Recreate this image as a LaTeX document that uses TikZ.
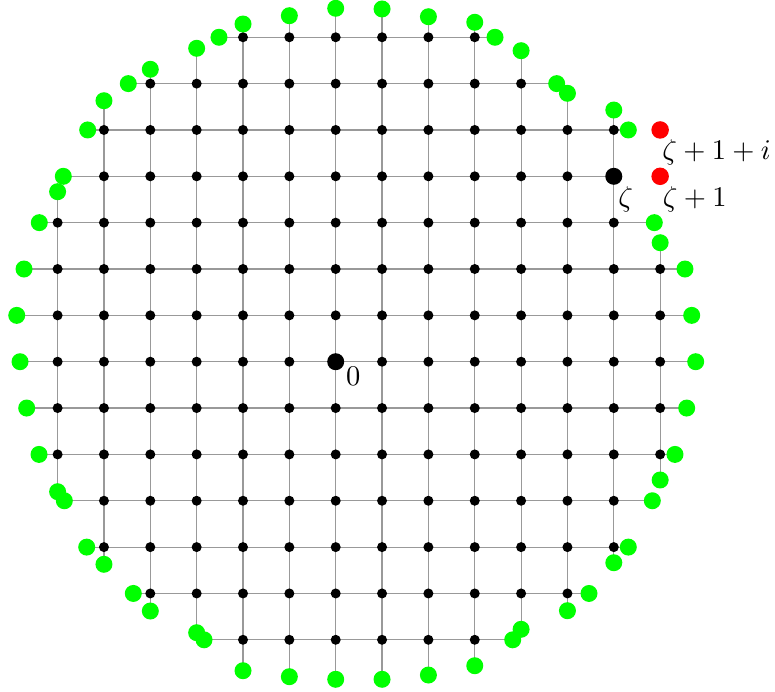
\documentclass[tikz,border=0pt]{standalone}
\usetikzlibrary{backgrounds}
\tikzset{
  gridline/.style={draw=black!40, line width=1.2pt},
  latt/.style={circle, fill=black, inner sep=0pt, minimum size=10pt},
  bigdot/.style={circle, fill=black, inner sep=0pt, minimum size=17pt},
  bnd/.style={circle, fill=green, inner sep=0pt, minimum size=17pt},
  outpt/.style={circle, fill=red, inner sep=0pt, minimum size=17.5pt},
  lbl/.style={inner sep=0pt},
}
\newcommand{\biglbl}[1]{\scalebox{2.85}{#1}}
\begin{document}
\begin{tikzpicture}[x=46.35pt,y=46.35pt]
\useasboundingbox (-7.243,-7.126) rectangle (9.478,7.804);
% lattice points inside
\foreach \i/\lo/\hi in {-6/-2/3, -5/-4/5, -4/-5/6, -3/-5/6, -2/-6/7, -1/-6/7, 0/-6/7, 1/-6/7, 2/-6/7, 3/-6/7, 4/-5/6, 5/-5/5, 6/-4/5, 7/-2/2}
  \foreach \j in {\lo,...,\hi} { \node[latt] (b\i_\j) at (\i,\j) {}; }
\node[bigdot] (zero) at (0,0) {};
\node[bigdot] (zeta) at (6,4) {};
% boundary points on columns
\foreach \i/\t/\b in {-6/3.668/-2.805, -5/5.631/-4.371, -4/6.309/-5.379, -3/6.762/-5.847, -2/7.286/-6.667, -1/7.465/-6.796, 0/7.625/-6.852, 1/7.610/-6.852, 2/7.443/-6.760, 3/7.323/-6.559, 4/6.710/-5.773, 5/5.791/-5.372, 6/5.430/-4.337, 7/2.567/-2.552}
  { \node[bnd] (ct\i) at (\i,\t) {}; \node[bnd] (cb\i) at (\i,\b) {}; }
% boundary points on rows
\foreach \j/\l/\r in {7/-2.518/3.437, 6/-4.475/4.768, 5/-5.351/6.313, 3/-6.395/6.874, 2/-6.725/7.536, 1/-6.882/7.681, 0/-6.811/7.767, -1/-6.667/7.573, -2/-6.401/7.320, -3/-5.855/6.831, -4/-5.372/6.313, -5/-4.367/5.465, -6/-2.841/3.819}
  { \node[bnd] (rl\j) at (\l,\j) {}; \node[bnd] (rr\j) at (\r,\j) {}; }
\node[bnd] (rl4) at (-5.877,4) {};
% points outside
\node[outpt] (z1) at (7,4) {};
\node[outpt] (z1i) at (7,5) {};
% grid lines
\begin{scope}[on background layer]
  \foreach \i in {-6,-5,-4,-3,-2,-1,0,1,2,3,4,5,6,7}
    \draw[gridline] (cb\i.center) -- (ct\i.center);
  \foreach \j in {-6,-5,-4,-3,-2,-1,0,1,2,3,5,6,7}
    \draw[gridline] (rl\j.center) -- (rr\j.center);
  \draw[gridline] (rl4.center) -- (zeta.center);
\end{scope}
% labels
\node[lbl, anchor=base west] (lz1i) at (7.045,4.352) {\biglbl{$\zeta+1+i$}};
\node[lbl, anchor=base west] (lz1) at (7.055,3.344) {\biglbl{$\zeta+1$}};
\node[lbl, anchor=base west] (lz) at (6.095,3.344) {\biglbl{$\zeta$}};
\node[lbl, anchor=base west] (l0) at (0.22,-0.518) {\biglbl{$0$}};
\end{tikzpicture}
\end{document}
